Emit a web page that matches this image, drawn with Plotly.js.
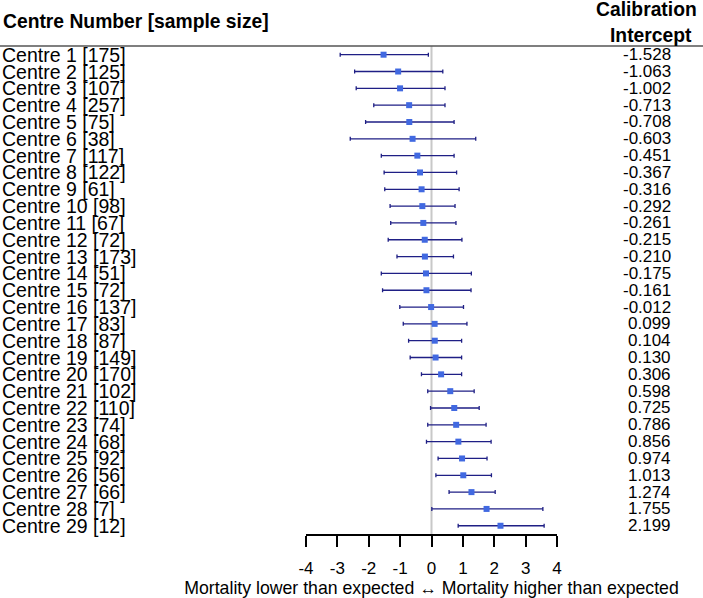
<!DOCTYPE html>
<html>
<head>
<meta charset="utf-8">
<script src="https://cdn.plot.ly/plotly-3.0.1.min.js"></script>
<style>html,body{margin:0;padding:0;background:#fff;}#chart{width:703px;height:598px;}</style>
</head>
<body>
<div id="chart"></div>
<script>
// Data
const centres = [1,2,3,4,5,6,7,8,9,10,11,12,13,14,15,16,17,18,19,20,21,22,23,24,25,26,27,28,29];
const sampleSizes = [175,125,107,257,75,38,117,122,61,98,67,72,173,51,72,137,83,87,149,170,102,110,74,68,92,56,66,7,12];
const intercepts = [-1.528,-1.063,-1.002,-0.713,-0.708,-0.603,-0.451,-0.367,-0.316,-0.292,-0.261,-0.215,-0.210,-0.175,-0.161,-0.012,0.099,0.104,0.130,0.306,0.598,0.725,0.786,0.856,0.974,1.013,1.274,1.755,2.199];
const lower = [-2.91,-2.45,-2.40,-1.84,-2.10,-2.59,-1.60,-1.51,-1.49,-1.32,-1.30,-1.38,-1.10,-1.60,-1.56,-1.01,-0.90,-0.73,-0.68,-0.32,-0.12,-0.03,-0.12,-0.16,0.21,0.14,0.56,0.01,0.85];
const upper = [-0.10,0.36,0.43,0.43,0.72,1.41,0.72,0.80,0.88,0.75,0.78,0.97,0.70,1.27,1.26,1.02,1.13,0.96,0.96,0.96,1.36,1.52,1.74,1.90,1.77,1.91,2.03,3.55,3.59];
const tickVals = [-4,-3,-2,-1,0,1,2,3,4];
const tickText = ['-4','-3','-2','-1','0','1','2','3','4'];

const W = 703, H = 598;
const px = v => v / W;
const py = v => (H - v) / H;
const FONT = 'Liberation Sans, Arial, sans-serif';

const trace = {
  type: 'scatter',
  mode: 'markers',
  x: intercepts,
  y: centres,
  marker: {symbol: 'square', size: 6, color: '#4169e1'},
  error_x: {
    type: 'data', symmetric: false,
    array: upper.map((u, i) => u - intercepts[i]),
    arrayminus: lower.map((l, i) => intercepts[i] - l),
    color: '#1f1f85', thickness: 1.3, width: 2
  },
  hoverinfo: 'x+y',
  showlegend: false
};

const annotations = [];
centres.forEach((c, i) => {
  annotations.push({
    xref: 'paper', yref: 'y', x: px(0), y: c, xanchor: 'left', yanchor: 'middle',
    text: 'Centre ' + c + ' [' + sampleSizes[i] + ']', showarrow: false,
    font: {family: FONT, size: 19.5, color: '#000'}
  });
  annotations.push({
    xref: 'paper', yref: 'y', x: px(673), y: c, xanchor: 'right', yanchor: 'middle',
    text: intercepts[i].toFixed(3), showarrow: false,
    font: {family: FONT, size: 17, color: '#000'}
  });
});
annotations.push({
  xref: 'paper', yref: 'paper', x: px(1), y: py(22), xanchor: 'left', yanchor: 'middle',
  text: '<b>Centre Number [sample size]</b>', showarrow: false,
  font: {family: FONT, size: 19.3, color: '#000'}
});
annotations.push({
  xref: 'paper', yref: 'paper', x: px(646), y: py(10), xanchor: 'center', yanchor: 'middle',
  text: '<b>Calibration</b>', showarrow: false,
  font: {family: FONT, size: 19.3, color: '#000'}
});
annotations.push({
  xref: 'paper', yref: 'paper', x: px(651), y: py(36), xanchor: 'center', yanchor: 'middle',
  text: '<b>Intercept</b>', showarrow: false,
  font: {family: FONT, size: 19.3, color: '#000'}
});

const layout = {
  width: W, height: H,
  margin: {l: 0, r: 0, t: 0, b: 0},
  paper_bgcolor: '#fff', plot_bgcolor: '#fff',
  xaxis: {
    domain: [px(306), px(557)],
    range: [-4, 4],
    tickvals: tickVals, ticktext: tickText,
    showgrid: false, zeroline: false,
    showline: true, linecolor: '#000', linewidth: 2,
    ticks: 'outside', ticklen: 11, tickwidth: 2, tickcolor: '#000',
    ticklabelstandoff: 7,
    tickfont: {family: FONT, size: 17, color: '#000'},
    title: {text: 'Mortality lower than expected \u2194 Mortality higher than expected',
            font: {family: FONT, size: 17.7, color: '#000'}, standoff: 4},
    fixedrange: true
  },
  yaxis: {
    domain: [py(534), py(46)],
    range: [29.49, 0.483],
    autorange: false,
    showgrid: false, zeroline: false, showline: false,
    showticklabels: false, ticks: '',
    fixedrange: true
  },
  shapes: [
    {type: 'line', xref: 'x', yref: 'y domain', x0: 0, x1: 0, y0: 0, y1: 1,
     line: {color: '#c8c8c8', width: 2}, layer: 'below'},
    {type: 'line', xref: 'paper', yref: 'paper', x0: 0, x1: 1, y0: py(46), y1: py(46),
     line: {color: '#555', width: 1.3}}
  ],
  annotations: annotations
};

Plotly.newPlot('chart', [trace], layout, {displayModeBar: false, staticPlot: true});
</script>
</body>
</html>
